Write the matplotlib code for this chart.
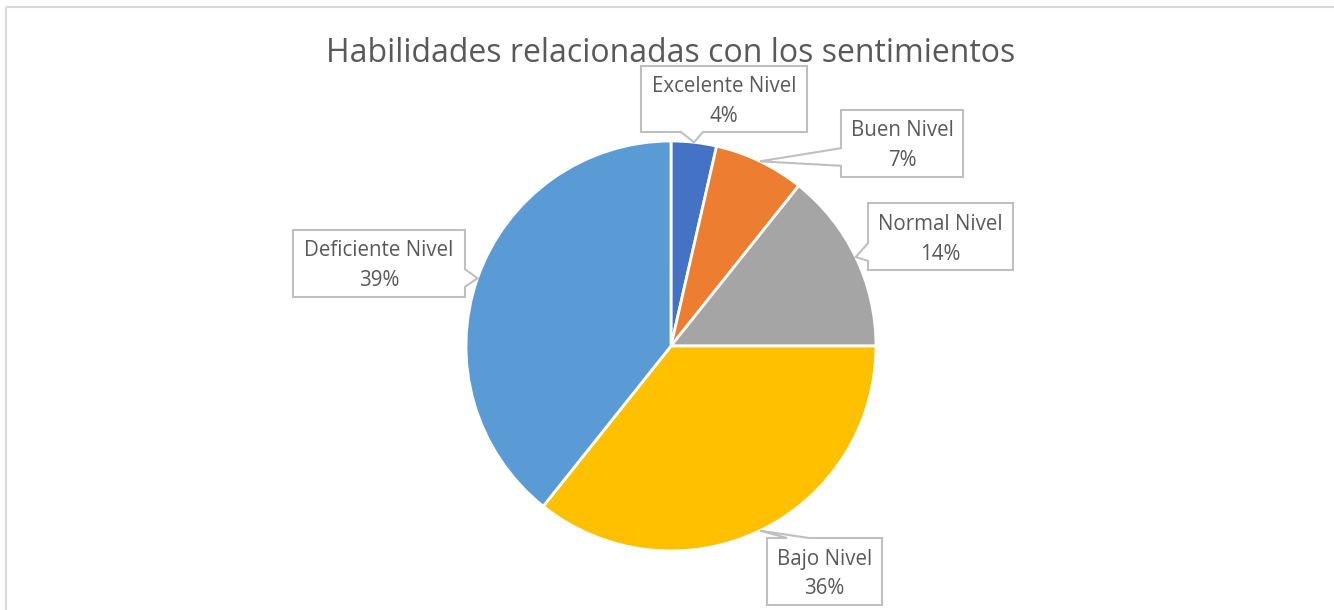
import matplotlib.pyplot as plt
import numpy as np
from matplotlib.patches import Polygon, Rectangle

plt.rcParams['font.family'] = ['Open Sans', 'DejaVu Sans']

labels = ['Excelente Nivel', 'Buen Nivel', 'Normal Nivel', 'Bajo Nivel', 'Deficiente Nivel']
counts = [1, 2, 4, 10, 11]
colors = ['#4472C4', '#ED7D31', '#A5A5A5', '#FFC000', '#5B9BD5']
title = 'Habilidades relacionadas con los sentimientos'

# callout boxes in pixels: x0, y0, x1, y1, notch side, notch centre
boxes = [
    (641, 66, 807, 132, 'bottom', 692),
    (841, 110, 963, 177, 'left', 157),
    (868, 203, 1013, 270, 'left', 252),
    (767, 538, 882, 605, 'top', 798),
    (293, 230, 465, 297, 'right', 278),
]

W, H = 1334, 610
cx, cy, R = 671, 346, 205

fig = plt.figure(figsize=(W / 100, H / 100), dpi=100)

ax = fig.add_axes([(cx - R) / W, (H - cy - R) / H, 2 * R / W, 2 * R / H])
ax.pie(counts, colors=colors, startangle=90, counterclock=False,
       wedgeprops=dict(edgecolor='white', linewidth=2))
ax.set_xlim(-1, 1)
ax.set_ylim(-1, 1)
ax.axis('off')

ov = fig.add_axes([0, 0, 1, 1], zorder=5)
ov.set_xlim(0, W)
ov.set_ylim(H, 0)
ov.axis('off')
ov.patch.set_alpha(0)

# chart border
ov.add_patch(Rectangle((6, 7), W + 20, H + 20, fill=False, edgecolor='#D9D9D9', lw=1.5))

ov.text(cx, 53, title, ha='center', va='center', fontsize=23, color='#595959')

total = sum(counts)
frac = np.array(counts) / total
cum = np.cumsum(frac) - frac / 2
mid = np.deg2rad(90 - cum * 360)

hw = 11
for lab, f, a, b in zip(labels, frac, mid, boxes):
    x0, y0, x1, y1, side, c = b
    tx, ty = cx + R * np.cos(a), cy - R * np.sin(a)
    if side == 'bottom':
        pts = [(x0, y0), (x1, y0), (x1, y1), (c + hw, y1), (tx, ty), (c - hw, y1), (x0, y1)]
    elif side == 'top':
        pts = [(x0, y0), (c - hw, y0), (tx, ty), (c + hw, y0), (x1, y0), (x1, y1), (x0, y1)]
    elif side == 'left':
        pts = [(x0, y0), (x1, y0), (x1, y1), (x0, y1), (x0, c + hw * 0.8), (tx, ty), (x0, c - hw * 0.8)]
    else:
        pts = [(x0, y0), (x1, y0), (x1, c - hw * 0.8), (tx, ty), (x1, c + hw * 0.8), (x1, y1), (x0, y1)]
    ov.add_patch(Polygon(pts, closed=True, facecolor='white', edgecolor='#BFBFBF', lw=1.5))
    xm = (x0 + x1) / 2
    ov.text(xm, y0 + 21, lab, ha='center', va='center', fontsize=14.8, color='#595959')
    ov.text(xm, y0 + 51, '{:.0f}%'.format(f * 100), ha='center', va='center', fontsize=14.8, color='#595959')

fig.savefig('out.png', dpi=100)
